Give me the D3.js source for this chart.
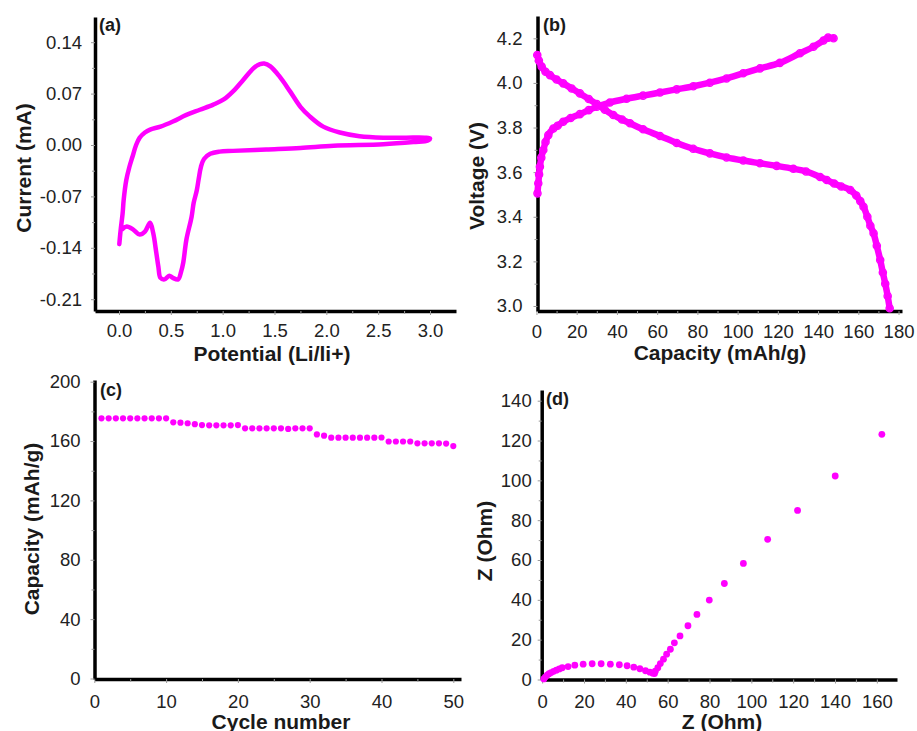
<!DOCTYPE html>
<html>
<head>
<meta charset="utf-8">
<script src="https://cdn.jsdelivr.net/npm/d3@7"></script>
<style>
    body { margin: 0; background: #fff; }
    svg  { display: block; font-family: Arial, "Liberation Sans", sans-serif; }
    .tick text { font-size: 18.5px; fill: #222; }
    .tick line { stroke: #999; }
    .title { font-size: 21px; font-weight: bold; fill: #1a1a1a; }
    .tag   { font-size: 18px; font-weight: bold; fill: #1a1a1a; }
</style>
</head>
<body>
<svg width="917" height="731"></svg>
<script>
// (a) cyclic voltammetry loop
const cvPotential = [0.003, 0.015, 0.035, 0.045, 0.07, 0.10, 0.13, 0.165, 0.20, 0.25, 0.30, 0.40, 0.52, 0.65, 0.78, 0.91, 1.01, 1.10, 1.20, 1.30, 1.36, 1.40, 1.46, 1.55, 1.65, 1.75, 1.84, 1.97, 2.13, 2.32, 2.55, 2.77, 2.95, 3.0, 2.98, 2.84, 2.55, 2.07, 1.75, 1.42, 1.10, 0.97, 0.88, 0.82, 0.79, 0.77, 0.75, 0.72, 0.70, 0.65, 0.62, 0.60, 0.57, 0.52, 0.485, 0.44, 0.40, 0.38, 0.36, 0.33, 0.30, 0.25, 0.20, 0.14, 0.074, 0.03]
const cvCurrent   = [-0.135, -0.117, -0.093, -0.075, -0.048, -0.030, -0.016, 0.0, 0.010, 0.017, 0.021, 0.025, 0.032, 0.041, 0.048, 0.055, 0.062, 0.073, 0.089, 0.105, 0.110, 0.111, 0.107, 0.093, 0.073, 0.052, 0.039, 0.025, 0.017, 0.012, 0.010, 0.010, 0.010, 0.009, 0.006, 0.004, 0.001, -0.001, -0.004, -0.006, -0.008, -0.009, -0.012, -0.019, -0.030, -0.045, -0.062, -0.079, -0.098, -0.129, -0.160, -0.172, -0.183, -0.181, -0.178, -0.183, -0.181, -0.166, -0.147, -0.120, -0.106, -0.118, -0.122, -0.1155, -0.111, -0.115]
const aXTicks = [0, 0.5, 1, 1.5, 2, 2.5, 3]
const aXMinor = [0.25, 0.75, 1.25, 1.75, 2.25, 2.75]
const aYTicks = [-0.21, -0.14, -0.07, 0, 0.07, 0.14]
const aYMinor = [-0.175, -0.105, -0.035, 0.035, 0.105]

// (b) charge / discharge
const chargeCap     = [0.5, 0.9, 1.3, 1.7, 2.4, 3.4, 4.5, 5.9, 8.4, 10.5, 13.3, 17, 21.6, 26, 30, 36.5, 44.8, 53, 61.4, 69.7, 78, 86.2, 94.5, 102.8, 111.1, 121, 131, 137.7, 142.7, 145, 147.7]
const chargeVolt    = [3.505, 3.55, 3.59, 3.624, 3.665, 3.699, 3.735, 3.766, 3.796, 3.808, 3.826, 3.843, 3.860, 3.878, 3.893, 3.912, 3.929, 3.943, 3.957, 3.971, 3.985, 4.001, 4.02, 4.043, 4.065, 4.09, 4.133, 4.162, 4.19, 4.203, 4.2]
const dischargeCap  = [0.4, 1.2, 2.6, 4.5, 6.7, 10, 13.3, 17.5, 21.6, 26, 30, 34, 38.2, 42.5, 46.5, 53, 61.4, 69.7, 77.9, 86.2, 94.5, 102.8, 111.1, 119.4, 127.7, 134, 141, 144.3, 148, 151.5, 156, 159, 161, 162.6, 164.5, 166, 167.6, 169.2, 170.9, 172.2, 173.4, 174.6, 175.6]
const dischargeVolt = [4.125, 4.10, 4.073, 4.05, 4.035, 4.015, 3.998, 3.975, 3.953, 3.928, 3.905, 3.88, 3.856, 3.836, 3.819, 3.792, 3.762, 3.731, 3.705, 3.684, 3.666, 3.652, 3.640, 3.628, 3.615, 3.603, 3.578, 3.565, 3.549, 3.536, 3.52, 3.495, 3.47, 3.445, 3.40, 3.36, 3.326, 3.27, 3.206, 3.15, 3.10, 3.045, 2.99]
const bXTicks = [0, 20, 40, 60, 80, 100, 120, 140, 160, 180]
const bXMinor = [10, 30, 50, 70, 90, 110, 130, 150, 170]
const bYTicks = [3.0, 3.2, 3.4, 3.6, 3.8, 4.0, 4.2]
const bYMinor = [3.1, 3.3, 3.5, 3.7, 3.9, 4.1]

// (c) cycling
const cycles = [1, 2, 3, 4, 5, 6, 7, 8, 9, 10, 11, 12, 13, 14, 15, 16, 17, 18, 19, 20, 21, 22, 23, 24, 25, 26, 27, 28, 29, 30, 31, 32, 33, 34, 35, 36, 37, 38, 39, 40, 41, 42, 43, 44, 45, 46, 47, 48, 49, 50]
const cycleCapacity = [175.3, 175.3, 175.3, 175.3, 175.3, 175.3, 175.3, 175.3, 175.3, 175.3, 172.6, 172.4, 172, 171.4, 170.8, 170.6, 170.6, 170.6, 170.6, 170.8, 168.6, 168.6, 168.6, 168.6, 168.6, 168.6, 168.2, 168.6, 168.6, 168.6, 164.5, 163.6, 162.3, 162.3, 162.3, 162.3, 162.3, 162.3, 162.3, 162.4, 159.7, 159.7, 159.7, 159.7, 158.5, 158.5, 158.5, 158.5, 158.3, 156.6]
const cXTicks = [0, 10, 20, 30, 40, 50]
const cXMinor = [5, 15, 25, 35, 45]
const cYTicks = [0, 40, 80, 120, 160, 200]
const cYMinor = [20, 60, 100, 140, 180]

// (d) impedance
const zReal = [0.8, 1.5, 2.4, 3.3, 4.3, 5.5, 6.8, 8.2, 9.6, 12.4, 15.6, 19.6, 23.9, 28.2, 32.6, 36.9, 40.6, 43.8, 46.7, 49.4, 51.5, 52.9, 53.7, 54.1, 55.3, 56.5, 58.0, 59.5, 61.3, 63.2, 65.9, 69.7, 74.0, 79.9, 87.1, 96.2, 107.8, 122.1, 140.1, 162.4]
const zImag = [0.3, 1.2, 2.2, 2.9, 3.5, 4.1, 4.7, 5.3, 5.9, 6.5, 7.2, 7.7, 7.9, 7.9, 7.7, 7.4, 6.9, 6.2, 5.4, 4.4, 3.7, 3.2, 3.0, 4.2, 5.9, 8.0, 10.2, 12.7, 15.2, 18.4, 21.9, 27.0, 32.7, 39.9, 48.2, 58.3, 70.4, 84.9, 102.2, 123.1]
const dXTicks = [0, 20, 40, 60, 80, 100, 120, 140, 160]
const dXMinor = [10, 30, 50, 70, 90, 110, 130, 150]
const dYTicks = [0, 20, 40, 60, 80, 100, 120, 140]
const dYMinor = [10, 30, 50, 70, 90, 110, 130]

const MAGENTA = '#ff00ff'
const svg = d3.select('svg')

// scale pinned on two tick positions, then stretched to the axis extent
const anchored = (v0, v1, p0, p1, e0, e1) => {
    const s = d3.scaleLinear().domain([v0, v1]).range([p0, p1])
    return s.domain([s.invert(e0), s.invert(e1)]).range([e0, e1])
}

const drawAxes = (g, x, y, o) => {
    const xa = g.append('g').attr('transform', `translate(0,${y.range()[0]})`)
        .call(d3.axisBottom(x).tickValues(o.xTicks).tickFormat(o.xFmt)
            .tickSize(4).tickSizeOuter(0).tickPadding(o.xPad))
    xa.select('.domain').attr('stroke', '#000').attr('stroke-width', 3.5)
    xa.selectAll('.tick line').attr('stroke', '#999')

    g.append('g').attr('transform', `translate(0,${y.range()[0]})`)
        .call(d3.axisBottom(x).tickValues(o.xMinor).tickFormat('').tickSize(3))
        .call(a => a.select('.domain').remove())
        .selectAll('line').attr('stroke', '#bbb')

    const ya = g.append('g').attr('transform', `translate(${x.range()[0]},0)`)
        .call(d3.axisLeft(y).tickValues(o.yTicks).tickFormat(o.yFmt)
            .tickSize(4).tickSizeOuter(0).tickPadding(o.yPad))
    ya.select('.domain').attr('stroke', '#000').attr('stroke-width', 3.5)
    ya.selectAll('.tick line').attr('stroke', '#999')

    g.append('g').attr('transform', `translate(${x.range()[0]},0)`)
        .call(d3.axisLeft(y).tickValues(o.yMinor).tickFormat('').tickSize(3))
        .call(a => a.select('.domain').remove())
        .selectAll('line').attr('stroke', '#bbb')

    g.append('text').attr('class', 'title')
        .attr('text-anchor', 'middle')
        .attr('x', o.xTitle[0]).attr('y', o.xTitle[1])
        .text(o.xLabel)

    g.append('text').attr('class', 'title')
        .attr('text-anchor', 'middle')
        .attr('transform', `translate(${o.yTitle[0]},${o.yTitle[1]}) rotate(-90)`)
        .text(o.yLabel)

    g.append('text').attr('class', 'tag')
        .attr('x', o.tag[0]).attr('y', o.tag[1])
        .text(o.tagText)
}

// ---- (a)
{
    const g = svg.append('g')
    const x = anchored(0, 3, 119, 430, 95, 456)
    const y = anchored(0, 0.14, 145, 42.2, 311, 17)
    drawAxes(g, x, y, {
        xTicks: aXTicks, xMinor: aXMinor, xFmt: d => d.toFixed(1), xPad: 9,
        yTicks: aYTicks, yMinor: aYMinor, yFmt: d => d.toFixed(2), yPad: 9,
        xLabel: 'Potential (Li/li+)', xTitle: [272, 361],
        yLabel: 'Current (mA)', yTitle: [31, 168],
        tagText: '(a)', tag: [99, 31]
    })
    const line = d3.line()
        .x((d, i) => x(cvPotential[i]))
        .y((d, i) => y(cvCurrent[i]))
        .curve(d3.curveCatmullRom.alpha(0.5))
    g.append('path')
        .datum(cvPotential)
        .attr('d', line)
        .attr('fill', 'none')
        .attr('stroke', MAGENTA)
        .attr('stroke-width', 4.5)
        .attr('stroke-linejoin', 'round')
        .attr('stroke-linecap', 'round')
}

// ---- (b)
{
    const g = svg.append('g')
    const x = anchored(20, 160, 576.7, 858.3, 537.5, 902)
    const y = anchored(3.0, 4.2, 306, 38.3, 311, 16)
    drawAxes(g, x, y, {
        xTicks: bXTicks, xMinor: bXMinor, xFmt: d => d, xPad: 10,
        yTicks: bYTicks, yMinor: bYMinor, yFmt: d => d.toFixed(1), yPad: 11,
        xLabel: 'Capacity (mAh/g)', xTitle: [720, 360],
        yLabel: 'Voltage (V)', yTitle: [484, 176],
        tagText: '(b)', tag: [543, 31]
    })
    const series = [
        { cap: chargeCap, volt: chargeVolt },
        { cap: dischargeCap, volt: dischargeVolt }
    ]
    series.forEach(s => {
        const line = d3.line()
            .x((d, i) => x(s.cap[i]))
            .y((d, i) => y(s.volt[i]))
            .curve(d3.curveMonotoneX)
        g.append('path')
            .datum(s.cap)
            .attr('d', line)
            .attr('fill', 'none')
            .attr('stroke', MAGENTA)
            .attr('stroke-width', 6.5)
            .attr('stroke-linecap', 'round')
        g.append('g').selectAll('circle')
            .data(s.cap)
            .join('circle')
            .attr('cx', (d, i) => x(s.cap[i]))
            .attr('cy', (d, i) => y(s.volt[i]))
            .attr('r', 3.6)
            .attr('fill', 'none')
            .attr('stroke', MAGENTA)
            .attr('stroke-width', 1.4)
    })
}

// ---- (c)
{
    const g = svg.append('g')
    const x = anchored(0, 50, 94.3, 453.3, 94.5, 461)
    const y = anchored(0, 200, 678.5, 381.7, 679, 380)
    drawAxes(g, x, y, {
        xTicks: cXTicks, xMinor: cXMinor, xFmt: d => d, xPad: 12,
        yTicks: cYTicks, yMinor: cYMinor, yFmt: d => d, yPad: 10,
        xLabel: 'Cycle number', xTitle: [281, 729],
        yLabel: 'Capacity (mAh/g)', yTitle: [38.5, 529],
        tagText: '(c)', tag: [100, 396]
    })
    g.append('g').selectAll('circle')
        .data(cycles)
        .join('circle')
        .attr('cx', (d, i) => x(cycles[i]))
        .attr('cy', (d, i) => y(cycleCapacity[i]))
        .attr('r', 3.1)
        .attr('fill', MAGENTA)
}

// ---- (d)
{
    const g = svg.append('g')
    const x = anchored(20, 140, 584, 835, 541.7, 897)
    const y = anchored(0, 140, 679.5, 400.7, 679.5, 390)
    drawAxes(g, x, y, {
        xTicks: dXTicks, xMinor: dXMinor, xFmt: d => d, xPad: 11,
        yTicks: dYTicks, yMinor: dYMinor, yFmt: d => d, yPad: 6,
        xLabel: 'Z (Ohm)', xTitle: [722, 729],
        yLabel: 'Z (Ohm)', yTitle: [492, 541],
        tagText: '(d)', tag: [546, 405]
    })
    g.append('g').selectAll('circle')
        .data(zReal)
        .join('circle')
        .attr('cx', (d, i) => x(zReal[i]))
        .attr('cy', (d, i) => y(zImag[i]))
        .attr('r', 3.4)
        .attr('fill', MAGENTA)
}
</script>
</body>
</html>
